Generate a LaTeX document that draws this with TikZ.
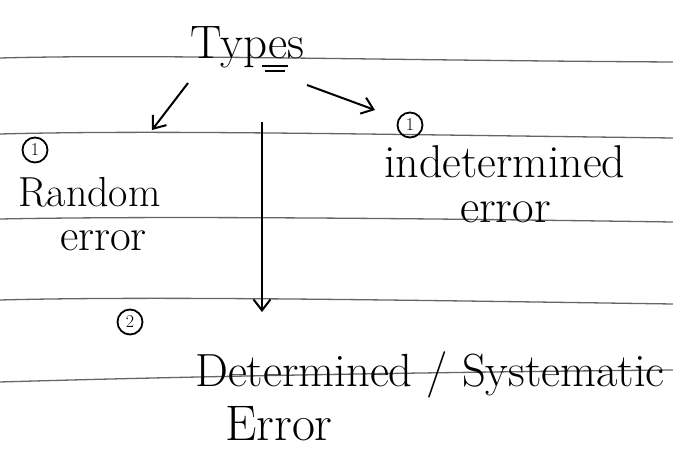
\documentclass[tikz,border=0pt]{standalone}
\usepackage{fontspec}
\usetikzlibrary{arrows.meta}
\tikzset{
  rule/.style={draw=black!60, line width=1.3pt},
  hw/.style={font=\fontsize{45}{48}\selectfont, inner sep=0pt, anchor=base west},
  num/.style={circle, draw, line width=1.8pt, inner sep=1pt, minimum size=25pt, font=\fontsize{18}{18}\selectfont},
  pen/.style={line width=2pt, -{Straight Barb[length=11pt, width=17pt, line width=2pt]}},
  mark2/.style={line width=1.6pt}
}
\begin{document}
\begin{tikzpicture}[x=1pt, y=-1pt]
\useasboundingbox (0,0) rectangle (673,450);
\fill[white] (0,0) rectangle (673,450);
% ruled paper lines
\draw[rule] (0,58) .. controls (150,54) and (350,60) .. (673,62);
\draw[rule] (0,134) .. controls (150,130) and (350,134) .. (673,138);
\draw[rule] (0,219) .. controls (150,216) and (400,218) .. (673,222);
\draw[rule] (0,300) .. controls (150,296) and (400,300) .. (673,304);
\draw[rule] (0,382) .. controls (200,376) and (450,372) .. (673,370);
% texts
\node[hw, font=\fontsize{47}{50}\selectfont] (types) at (190,58) {Types};
\node[num] (n1) at (35,150) {1};
\node[hw, font=\fontsize{42}{45}\selectfont] (random) at (18,206) {Random};
\node[hw] (rerr) at (60,250) {error};
\node[num] (n1b) at (410,125) {1};
\node[hw, font=\fontsize{46}{49}\selectfont] (indet) at (384,177) {indetermined};
\node[hw, font=\fontsize{47}{50}\selectfont] (ierr) at (460,222) {error};
\node[num] (n2) at (130,322) {2};
\node[hw, font=\fontsize{46.5}{50}\selectfont] (det) at (195,386) {Determined / Systematic};
\node[hw, font=\fontsize{50}{54}\selectfont] (Err) at (225,440) {Error};
% double underline under "es"
\coordinate (u1) at (262,66);
\coordinate (u2) at (288,66);
\coordinate (u3) at (265,71);
\coordinate (u4) at (285,71);
\draw[mark2] (u1) -- (u2);
\draw[mark2] (u3) -- (u4);
% arrows
\coordinate (la) at (188,83);
\coordinate (lb) at (152,130);
\coordinate (ra) at (307,85);
\coordinate (rb) at (375,110);
\coordinate (va) at (262,122);
\coordinate (vb) at (262,312);
\draw[pen] (la) -- (lb);
\draw[pen] (ra) -- (rb);
\draw[pen] (va) -- (vb);
\end{tikzpicture}
\end{document}
